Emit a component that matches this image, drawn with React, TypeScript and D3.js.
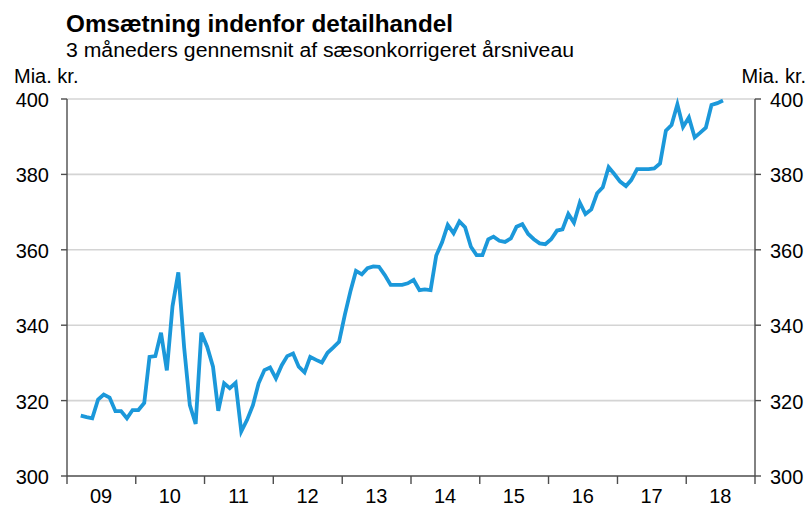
import React from "react";
import * as d3 from "d3";

const title = "Omsætning indenfor detailhandel";
const subtitle = "3 måneders gennemsnit af sæsonkorrigeret årsniveau";
const unitLabel = "Mia. kr.";
const yTicks = [300, 320, 340, 360, 380, 400];
const yearLabels = ["09", "10", "11", "12", "13", "14", "15", "16", "17", "18"];
const firstYear = 2009;
const startMonth = "2009-03"; // first observation
const values = [
  316.0, 315.6, 315.3, 320.3, 321.6, 320.8, 317.2, 317.2, 315.3, 317.5,
  317.5, 319.4, 331.6, 331.8, 338.0, 328.0, 345.0, 354.0, 334.0, 318.8,
  313.8, 338.0, 334.3, 329.0, 317.3, 324.6, 323.3, 324.7, 311.8, 314.9,
  318.8, 324.6, 328.1, 328.8, 325.9, 329.4, 331.8, 332.5, 329.0, 327.5,
  331.6, 330.8, 330.1, 332.7, 334.1, 335.6, 342.8, 349.3, 354.4, 353.5,
  355.1, 355.6, 355.5, 353.3, 350.7, 350.7, 350.7, 351.1, 352.0, 349.3,
  349.5, 349.3, 358.5, 362.0, 366.6, 364.4, 367.5, 366.0, 360.8, 358.6,
  358.6, 362.8, 363.5, 362.4, 362.1, 363.0, 366.1, 366.8, 364.2, 362.8,
  361.7, 361.5, 362.8, 365.1, 365.4, 369.5, 367.2, 372.5, 369.5, 370.7,
  375.0, 376.6, 381.9, 380.1, 378.1, 376.9, 378.5, 381.4, 381.4, 381.4,
  381.6, 382.9, 391.6, 393.1, 398.6, 392.6, 395.1, 389.8, 391.0, 392.4,
  398.4, 398.9, 399.6,
];

const W = 812;
const H = 507;
const left = 67;
const right = 755;
const top = 99;
const bottom = 476;
const font = "'Liberation Sans', Arial, sans-serif";

export default function App() {
  const start = new Date(firstYear, 0, 1);
  const end = new Date(firstYear + yearLabels.length, 0, 1);
  const x = d3.scaleTime().domain([start, end]).range([left, right]);
  const y = d3.scaleLinear().domain([300, 400]).range([bottom, top]);
  const [sy, sm] = startMonth.split("-").map(Number);
  const first = new Date(sy, sm - 1, 1);
  const pts = values.map((v, i) => {
    const m = d3.timeMonth.offset(first, i);
    const mid = new Date(m.getFullYear(), m.getMonth(), 15);
    return [x(mid), y(v)] as [number, number];
  });
  const line = d3.line().curve(d3.curveLinear)(pts) || "";
  const yearTicks = d3.range(yearLabels.length + 1).map((k) => new Date(firstYear + k, 0, 1));
  const axisColor = "#4d4d4d";

  return (
    <svg width={W} height={H} style={{ position: "absolute", left: 0, top: 0 }}>
      <rect width={W} height={H} fill="#fff" />
      <text x={66} y={31.5} fontFamily={font} fontWeight="bold" fontSize={23} textLength={387} lengthAdjust="spacingAndGlyphs" fill="#000">{title}</text>
      <text x={66} y={56.5} fontFamily={font} fontSize={20} textLength={508} lengthAdjust="spacingAndGlyphs" fill="#000">{subtitle}</text>
      <text x={14} y={83} fontFamily={font} fontSize={20} fill="#000">{unitLabel}</text>
      <text x={806} y={83} textAnchor="end" fontFamily={font} fontSize={20} fill="#000">{unitLabel}</text>
      {yTicks.map((t) => (
        <g key={t}>
          {t !== 300 && (
            <line x1={left} x2={right} y1={y(t)} y2={y(t)} stroke="#d4d4d4" strokeWidth={1.6} />
          )}
          <line x1={left - 6} x2={left} y1={y(t)} y2={y(t)} stroke={axisColor} strokeWidth={1.4} />
          <line x1={right} x2={right + 6} y1={y(t)} y2={y(t)} stroke={axisColor} strokeWidth={1.4} />
          <text x={49} y={y(t) + 8} textAnchor="end" fontFamily={font} fontSize={20} fill="#000">{t}</text>
          <text x={770} y={y(t) + 8} fontFamily={font} fontSize={20} fill="#000">{t}</text>
        </g>
      ))}
      <line x1={left} x2={left} y1={top} y2={bottom} stroke={axisColor} strokeWidth={1.4} />
      <line x1={right} x2={right} y1={top} y2={bottom} stroke={axisColor} strokeWidth={1.4} />
      <line x1={left} x2={right} y1={bottom} y2={bottom} stroke={axisColor} strokeWidth={1.4} />
      {yearTicks.map((d, k) => (
        <line key={k} x1={x(d)} x2={x(d)} y1={bottom} y2={bottom + 8} stroke={axisColor} strokeWidth={1.4} />
      ))}
      {yearLabels.map((lab, k) => (
        <text key={lab} x={x(new Date(firstYear + k, 6, 1))} y={502.5} textAnchor="middle" fontFamily={font} fontSize={20} fill="#000">{lab}</text>
      ))}
      <path d={line} fill="none" stroke="#1b98da" strokeWidth={3.8} strokeLinejoin="miter" strokeMiterlimit={4} />
    </svg>
  );
}
